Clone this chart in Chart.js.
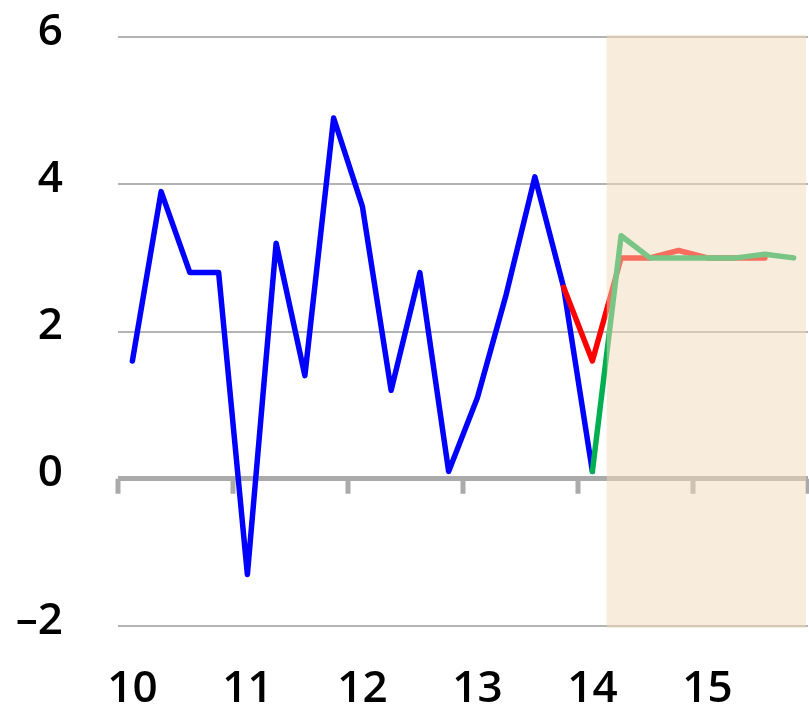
<!DOCTYPE html>
<html>
<head>
<meta charset="utf-8">
<script src="https://cdn.jsdelivr.net/npm/chart.js@4"></script>
<style>
  html, body { margin: 0; padding: 0; background: #fff; }
  #wrap { width: 809px; height: 707px; }
</style>
</head>
<body>
<div id="wrap"><canvas id="chart" width="809" height="707"></canvas></div>
<script>
// quarters 2010 Q1 .. 2015 Q4
const years = ["10", "11", "12", "13", "14", "15"];
const quarters = [];
years.forEach(y => { for (let q = 1; q <= 4; q++) quarters.push(y + "Q" + q); });

const actual = [1.6, 3.9, 2.8, 2.8, -1.3, 3.2, 1.4, 4.9, 3.7, 1.2, 2.8, 0.1, 1.1, 2.5, 4.1, 2.6, 0.1,
  null, null, null, null, null, null, null];
const forecastOld = [null, null, null, null, null, null, null, null, null, null, null, null, null, null, null,
  2.6, 1.6, 3.0, 3.0, 3.1, 3.0, 3.0, 3.0, null];
const forecastNew = [null, null, null, null, null, null, null, null, null, null, null, null, null, null, null, null,
  0.1, 3.3, 3.0, 3.0, 3.0, 3.0, 3.05, 3.0];

const yTicks = [-2, 0, 2, 4, 6];
const shadeFrom = 16.5; // forecast period starts after 14Q1

const font = { family: "'Open Sans', 'DejaVu Sans', sans-serif", size: 44, weight: 600 };

const overlay = {
  id: "overlay",
  beforeDatasetsDraw(chart) {
    const { ctx, scales: { x, y }, chartArea } = chart;
    const half = (x.getPixelForValue(1) - x.getPixelForValue(0)) / 2;
    const y0 = y.getPixelForValue(0);
    ctx.save();
    ctx.fillStyle = "#aaaaaa";
    for (let k = 0; k <= years.length; k++) {
      const px = k < years.length ? x.getPixelForValue(k * 4) - half : chartArea.right;
      ctx.fillRect(px - 2.5, y0, 5, 15);
    }
    ctx.restore();
  },
  afterDatasetsDraw(chart) {
    const { ctx, scales: { x, y }, chartArea } = chart;
    const x1 = (x.getPixelForValue(Math.floor(shadeFrom)) + x.getPixelForValue(Math.ceil(shadeFrom))) / 2;
    const top = y.getPixelForValue(6) - 2;
    const bot = y.getPixelForValue(-2) + 2;
    ctx.save();
    ctx.fillStyle = "rgba(241, 217, 185, 0.5)";
    ctx.fillRect(x1, top, chartArea.right - x1 - 2, bot - top);
    ctx.restore();
  }
};

function line(data, color, order) {
  return {
    data: data,
    borderColor: color,
    borderWidth: 5.5,
    pointRadius: 0,
    tension: 0,
    fill: false,
    spanGaps: false,
    borderJoinStyle: "round",
    borderCapStyle: "round",
    order: order
  };
}

new Chart(document.getElementById("chart"), {
  type: "line",
  data: {
    labels: quarters,
    datasets: [
      line(actual, "#0000ff", 3),
      line(forecastOld, "#ff0000", 2),
      line(forecastNew, "#00b050", 1)
    ]
  },
  options: {
    responsive: false,
    animation: false,
    events: [],
    layout: { padding: { top: 37, right: 1, bottom: 0, left: 0 } },
    plugins: { legend: { display: false }, tooltip: { enabled: false } },
    scales: {
      x: {
        type: "category",
        offset: true,
        grid: { display: false, drawTicks: false },
        border: { display: false },
        afterFit: s => { s.height = 81; s.paddingLeft = 0; s.paddingRight = 0; },
        ticks: {
          autoSkip: false,
          maxRotation: 0,
          padding: 37,
          color: "#000",
          font: font,
          callback: (v, i) => (i % 4 === 0 ? years[i / 4] : "")
        }
      },
      y: {
        min: -2,
        max: 6,
        afterBuildTicks: s => { s.ticks = yTicks.map(v => ({ value: v })); },
        afterFit: s => { s.width = 118; s.paddingTop = 0; s.paddingBottom = 0; },
        grid: {
          drawTicks: false,
          color: c => (c.tick && c.tick.value === 0 ? "#aaaaaa" : "#b4b4b4"),
          lineWidth: c => (c.tick && c.tick.value === 0 ? 5 : 2)
        },
        border: { display: false },
        ticks: {
          padding: 55,
          labelOffset: -5,
          color: "#000",
          font: font,
          callback: v => (v < 0 ? "\u2013" + Math.abs(v) : String(v))
        }
      }
    }
  },
  plugins: [overlay]
});
</script>
</body>
</html>
